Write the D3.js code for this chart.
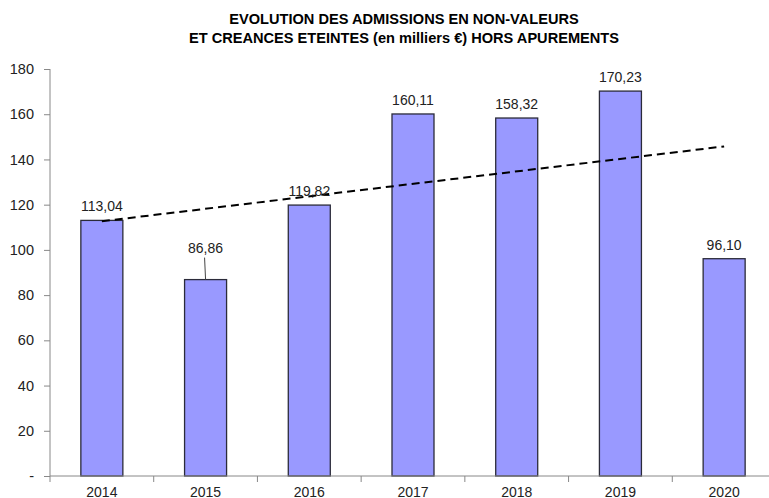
<!DOCTYPE html>
<html>
<head>
<meta charset="utf-8">
<script src="https://cdn.jsdelivr.net/npm/d3@7"></script>
<style>
    body { margin: 0; background: #fff; }
    svg text { font-family: "Liberation Sans", Arial, sans-serif; }
</style>
</head>
<body>
<svg width="769" height="498"></svg>
<script>
var years = ["2014", "2015", "2016", "2017", "2018", "2019", "2020"];
var values = [113.04, 86.86, 119.82, 160.11, 158.32, 170.23, 96.10];
var yTicks = [0, 20, 40, 60, 80, 100, 120, 140, 160, 180];
var titleLines = ["EVOLUTION DES ADMISSIONS EN NON-VALEURS",
    "ET CREANCES ETEINTES (en milliers \u20ac) HORS APUREMENTS"];

(function () {
    "use strict";
    var svg, x, y, fmt, n, mx, my, sxy, sxx, slope, icpt, labelLift;

    svg = d3.select("svg");

    x = d3.scaleBand()
        .domain(years)
        .range([50, 776])
        .paddingInner(0.595)
        .paddingOuter(0.2975);

    y = d3.scaleLinear()
        .domain([0, 180])
        .range([476, 69]);

    fmt = function (v) {
        return d3.format(".2f")(v).replace(".", ",");
    };

    // title
    svg.append("g").selectAll("text")
        .data(titleLines)
        .enter().append("text")
        .attr("x", 404)
        .attr("y", function (d, i) { return 24 + i * 19; })
        .attr("text-anchor", "middle")
        .attr("font-size", 14.6)
        .attr("font-weight", "bold")
        .attr("fill", "#000")
        .text(function (d) { return d; });

    // bars
    svg.append("g").selectAll("rect")
        .data(values)
        .enter().append("rect")
        .attr("x", function (d, i) { return x(years[i]); })
        .attr("y", function (d) { return y(d); })
        .attr("width", x.bandwidth())
        .attr("height", function (d) { return y(0) - y(d); })
        .attr("fill", "#9999ff")
        .attr("stroke", "#2b2b3a")
        .attr("stroke-width", 1.3);

    // linear trend line
    n = values.length;
    mx = d3.mean(values, function (d, i) { return i; });
    my = d3.mean(values);
    sxy = d3.sum(values, function (d, i) { return (i - mx) * (d - my); });
    sxx = d3.sum(values, function (d, i) { return (i - mx) * (i - mx); });
    slope = sxy / sxx;
    icpt = my - slope * mx;

    svg.append("line")
        .attr("x1", x(years[0]) + x.bandwidth() / 2)
        .attr("y1", y(icpt))
        .attr("x2", x(years[n - 1]) + x.bandwidth() / 2)
        .attr("y2", y(icpt + slope * (n - 1)))
        .attr("stroke", "#000")
        .attr("stroke-width", 2)
        .attr("stroke-dasharray", "8,5");

    // data labels (2015 label is moved up with a leader line)
    labelLift = function (i) { return i === 1 ? 27 : 9; };

    svg.append("line")
        .attr("x1", x(years[1]) + x.bandwidth() / 2 - 1)
        .attr("y1", y(values[1]) - 22)
        .attr("x2", x(years[1]) + x.bandwidth() / 2)
        .attr("y2", y(values[1]))
        .attr("stroke", "#444")
        .attr("stroke-width", 1);

    svg.append("g").selectAll("text")
        .data(values)
        .enter().append("text")
        .attr("x", function (d, i) { return x(years[i]) + x.bandwidth() / 2; })
        .attr("y", function (d, i) { return y(d) - labelLift(i); })
        .attr("text-anchor", "middle")
        .attr("font-size", 14)
        .attr("fill", "#222")
        .text(function (d) { return fmt(d); });

    // y axis
    svg.append("g")
        .attr("transform", "translate(50,0)")
        .call(d3.axisLeft(y)
            .tickValues(yTicks)
            .tickSize(6)
            .tickPadding(10)
            .tickFormat(function (d) { return d === 0 ? "-" : d; }))
        .call(function (g) {
            g.select(".domain").attr("stroke", "#888").attr("d", "M0,69V476");
            g.selectAll(".tick line").attr("stroke", "#888");
            g.selectAll(".tick text")
                .attr("font-size", 14.5)
                .attr("fill", "#222")
                .style("font-family", "'Liberation Sans', Arial, sans-serif");
        });

    // x axis
    svg.append("g")
        .attr("transform", "translate(0,476)")
        .call(d3.axisBottom(x).tickSize(0).tickPadding(11))
        .call(function (g) {
            g.select(".domain").attr("stroke", "#888").attr("d", "M50,0H776");
            g.selectAll(".tick text")
                .attr("font-size", 14)
                .attr("fill", "#222")
                .style("font-family", "'Liberation Sans', Arial, sans-serif");
        });

    // category separators on x axis
    svg.append("g").selectAll("line")
        .data(years)
        .enter().append("line")
        .attr("x1", function (d) { return x(d) - x.step() * x.paddingOuter(); })
        .attr("x2", function (d) { return x(d) - x.step() * x.paddingOuter(); })
        .attr("y1", 476)
        .attr("y2", 482)
        .attr("stroke", "#888");
}());
</script>
</body>
</html>
